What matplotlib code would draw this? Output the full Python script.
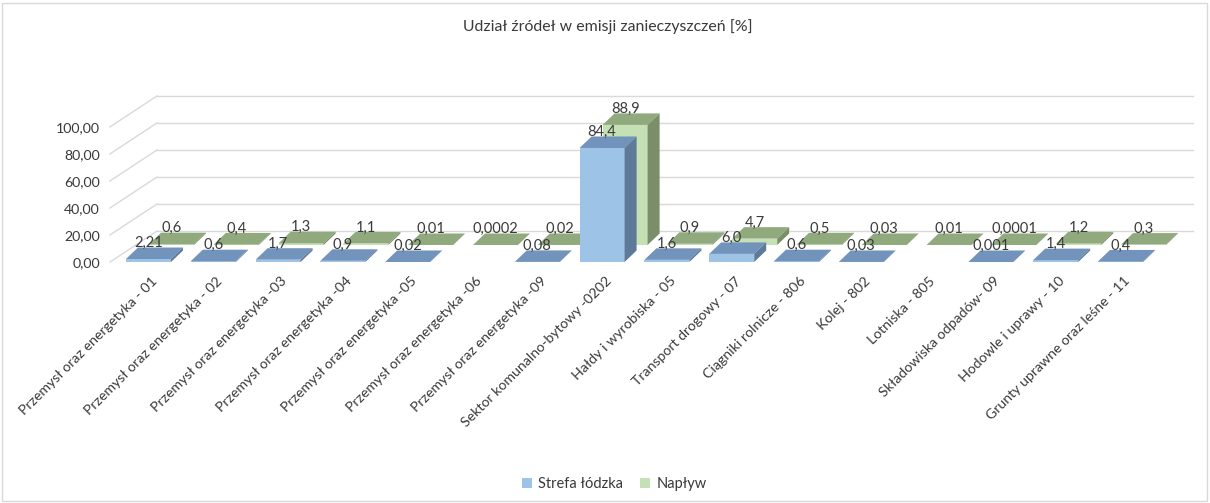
import matplotlib
matplotlib.use("Agg")
import matplotlib.pyplot as plt
from matplotlib.patches import Polygon, Rectangle, Patch

# ---- data -------------------------------------------------------------
categories = [
    "Przemysł oraz energetyka - 01",
    "Przemysł oraz energetyka - 02",
    "Przemysł oraz energetyka -03",
    "Przemysł oraz energetyka -04",
    "Przemysł oraz energetyka -05",
    "Przemysł oraz energetyka -06",
    "Przemysł oraz energetyka -09",
    "Sektor komunalno-bytowy -0202",
    "Hałdy i wyrobiska - 05",
    "Transport drogowy - 07",
    "Ciągniki rolnicze - 806",
    "Kolej - 802",
    "Lotniska - 805",
    "Składowiska odpadów- 09",
    "Hodowle i uprawy - 10",
    "Grunty uprawne oraz leśne - 11",
]
strefa = [2.21, 0.6, 1.7, 0.9, 0.02, None, 0.08, 84.4, 1.6, 6.0, 0.6, 0.03, None, 0.001, 1.4, 0.4]
strefa_decimals = [2, 1, 1, 1, 2, None, 2, 1, 1, 1, 1, 2, None, 3, 1, 1]
naplyw = [0.6, 0.4, 1.3, 1.1, 0.01, 0.0002, 0.02, 88.9, 0.9, 4.7, 0.5, 0.03, 0.01, 0.0001, 1.2, 0.3]
naplyw_decimals = [1, 1, 1, 1, 2, 4, 2, 1, 1, 1, 1, 2, 2, 4, 1, 1]
series_names = ["Strefa łódzka", "Napływ"]
yticks = [0, 20, 40, 60, 80, 100]

title = "Udział źródeł w emisji zanieczyszczeń [%]"

# ---- styling ------------------------------------------------------------
plt.rcParams["font.family"] = ["Lato", "DejaVu Sans"]
TEXT = "#3A3A3A"
GRID = "#D9D9D9"
# (front, top, side) shades for each series
blue = ("#9DC3E6", "#7193BC", "#5E7A98")
green = ("#C5E0B4", "#90AA7E", "#7A8F69")

W, H = 1210, 503
fig = plt.figure(figsize=(W / 100, H / 100), dpi=100)

# pixel geometry of the projected plot
X0, DX = 148.5, 64.8      # centre of first category, spacing
Y0, KY = 262.0, 1.351     # baseline, pixels per unit
ax_l, ax_r, ax_t, ax_b = 104, 1200, 85, 272
ax = fig.add_axes([ax_l / W, 1 - ax_b / H, (ax_r - ax_l) / W, (ax_b - ax_t) / H])
ax.set_xlim((ax_l - X0) / DX, (ax_r - X0) / DX)
ax.set_ylim((Y0 - ax_b) / KY, (Y0 - ax_t) / KY)
for s in ax.spines.values():
    s.set_visible(False)
ax.set_xticks([])
ax.set_yticks(yticks)
ax.set_yticklabels([f"{t:.2f}".replace(".", ",") for t in yticks], color=TEXT, fontsize=10.2)
ax.tick_params(axis="y", length=0, pad=3)

bar_w = 45 / DX
depth_x, depth_y = 12 / DX, 11.5 / KY
shift = [(0.0, 0.0), (23 / DX, 17 / KY)]
wall_x, wall_y = 47 / DX, 31 / KY
left_x = (110 - X0) / DX
right_x = (1193 - X0) / DX

# walls: back wall gridlines and side-wall diagonals
for t in yticks:
    ax.plot([left_x, left_x + wall_x], [t, t + wall_y], color=GRID, lw=1, zorder=0)
    ax.plot([left_x + wall_x, right_x], [t + wall_y, t + wall_y], color=GRID, lw=1, zorder=0)


def draw_bar(x, v, sx, sy, cols, z):
    front, top, side = cols
    xl, xr = x + sx - bar_w / 2, x + sx + bar_w / 2
    y0, y1 = sy, sy + v
    ax.bar(x + sx, v, width=bar_w, bottom=sy, color=front, linewidth=0, zorder=z)
    ax.add_patch(Polygon([(xl, y1), (xr, y1), (xr + depth_x, y1 + depth_y), (xl + depth_x, y1 + depth_y)],
                         closed=True, facecolor=top, edgecolor="none", zorder=z))
    ax.add_patch(Polygon([(xr, y0), (xr, y1), (xr + depth_x, y1 + depth_y), (xr + depth_x, y0 + depth_y)],
                         closed=True, facecolor=side, edgecolor="none", zorder=z))


def fmt(v, d):
    return f"{v:.{d}f}".replace(".", ",")


layers = [(naplyw, naplyw_decimals, shift[1], green, 2),
          (strefa, strefa_decimals, shift[0], blue, 4)]
for vals, decs, (sx, sy), cols, z in layers:
    for i, (v, d) in enumerate(zip(vals, decs)):
        if v is None:
            continue
        draw_bar(i, v, sx, sy, cols, z)
        ax.text(i + sx, sy + v + depth_y + 0.3, fmt(v, d), ha="center", va="baseline",
                color=TEXT, fontsize=10.5, zorder=z + 1)

# category labels
for i, c in enumerate(categories):
    ax.text(i + 7 / DX, (Y0 - 279) / KY, c, rotation=45, rotation_mode="anchor",
            ha="right", va="center", color=TEXT, fontsize=10.2, clip_on=False)

fig.text(608 / W, 1 - 27 / H, title, ha="center", va="center", color=TEXT, fontsize=11.4)

handles = [Patch(facecolor=blue[0], edgecolor="none"), Patch(facecolor=green[0], edgecolor="none")]
fig.legend(handles, series_names, loc="center", bbox_to_anchor=(614 / W, 1 - 484 / H),
           ncol=2, frameon=False, fontsize=10.5, handlelength=0.7, handleheight=0.7,
           handletextpad=0.4, columnspacing=1.2, labelcolor=TEXT)

fig.patches.append(Rectangle((2 / W, 2 / H), 1 - 5 / W, 1 - 5 / H, transform=fig.transFigure,
                             fill=False, edgecolor=GRID, lw=1))

fig.savefig("out.png", dpi=100)
